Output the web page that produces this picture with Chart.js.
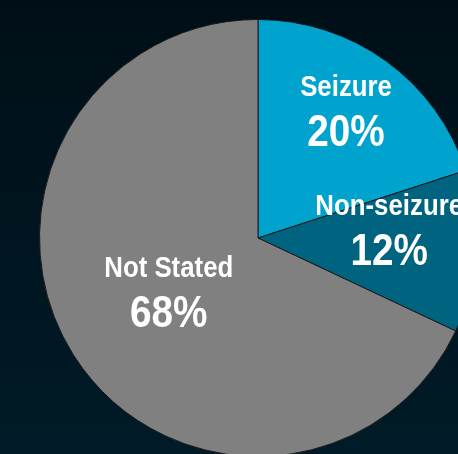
<!DOCTYPE html>
<html>
<head>
<meta charset="utf-8">
<script src="https://cdn.jsdelivr.net/npm/chart.js@4/dist/chart.umd.min.js"></script>
<style>
  html, body {
    margin: 0;
    width: 458px;
    height: 454px;
    overflow: hidden;
    background: linear-gradient(to bottom, #000f17 0%, #00151f 50%, #001b27 100%);
  }
  #wrap {
    position: absolute;
    left: 39px;
    top: 19px;
    width: 438px;
    height: 438px;
  }
</style>
</head>
<body>
<div id="wrap"><canvas id="chart"></canvas></div>
<script>
const categories = ['Seizure', 'Non-seizure', 'Not Stated'];
const shares = [20, 12, 68];
const sliceColors = ['#00a3cd', '#006480', '#808080'];
// how far out (fraction of radius) each label sits along its slice's middle
const labelRadius = [0.67, 0.62, 0.5];
// small hand tweaks of the label block, px
const labelNudge = [[2, 1], [-4, -7], [3, 5]];

function pickFont() {
  const c = document.createElement('canvas').getContext('2d');
  c.font = 'bold 30px monospace';
  const mono = c.measureText('Non-seizure Stated').width;
  c.font = 'bold 30px "Liberation Sans Narrow", monospace';
  const narrow = c.measureText('Non-seizure Stated').width;
  return narrow !== mono ? { family: '"Liberation Sans Narrow"', squeeze: 1.05 }
                         : { family: '"Liberation Sans", Arial', squeeze: 0.86 };
}
const font = pickFont();

const sliceLabels = {
  id: 'sliceLabels',
  afterDatasetsDraw(chart) {
    const ctx = chart.ctx;
    const arcs = chart.getDatasetMeta(0).data;
    arcs.forEach((arc, i) => {
      const p = arc.getProps(['x', 'y', 'startAngle', 'endAngle', 'outerRadius'], true);
      const mid = (p.startAngle + p.endAngle) / 2;
      const r = p.outerRadius * labelRadius[i];
      const x = p.x + Math.cos(mid) * r + labelNudge[i][0];
      const y = p.y + Math.sin(mid) * r + labelNudge[i][1];
      ctx.save();
      ctx.fillStyle = '#ffffff';
      ctx.textAlign = 'center';
      ctx.textBaseline = 'alphabetic';
      ctx.translate(x, y);
      ctx.scale(font.squeeze, 1);
      ctx.font = 'bold 30px ' + font.family;
      ctx.fillText(categories[i], 0, -25);
      ctx.font = 'bold 45px ' + font.family;
      ctx.fillText(shares[i] + '%', 0, 25);
      ctx.restore();
    });
  }
};

new Chart(document.getElementById('chart'), {
  type: 'pie',
  data: {
    labels: categories,
    datasets: [{
      data: shares,
      backgroundColor: sliceColors,
      borderColor: '#1a1a1a',
      borderWidth: 1,
      hoverOffset: 0
    }]
  },
  options: {
    animation: false,
    responsive: true,
    maintainAspectRatio: false,
    layout: { padding: 0 },
    plugins: {
      legend: { display: false },
      tooltip: { enabled: false }
    }
  },
  plugins: [sliceLabels]
});
</script>
</body>
</html>
